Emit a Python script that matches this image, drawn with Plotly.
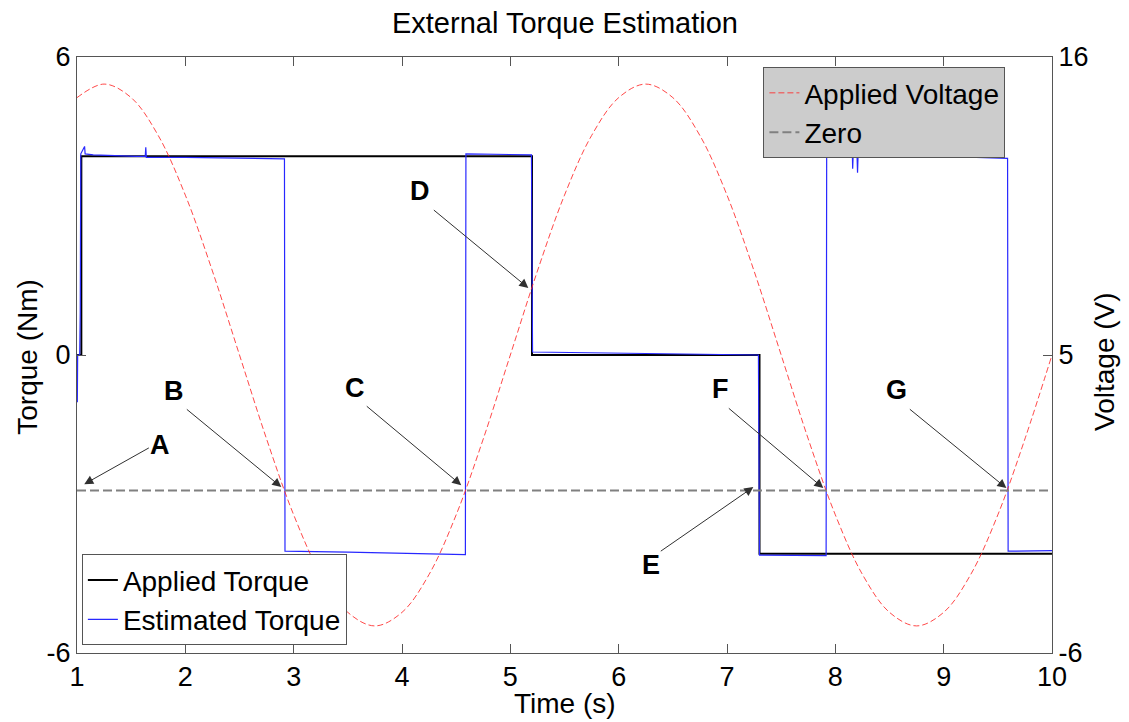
import plotly.graph_objects as go

# ---------------- data ----------------
applied_t = [1.0, 1.04, 1.04, 5.2, 5.2, 7.3, 7.3, 10.0]
applied_T = [0.0, 0.0, 4.0, 4.0, 0.0, 0.0, -4.0, -4.0]

est_t = [1.000, 1.003, 1.006, 1.025, 1.030, 1.035, 1.070, 1.075, 1.15, 1.55, 1.630,
         1.635, 1.640, 2.0, 2.5, 2.915, 2.920, 3.0, 3.2, 3.5, 4.0, 4.585, 4.590,
         5.0, 5.195, 5.205, 5.5, 6.0, 6.6, 7.29, 7.30, 7.6, 7.915, 7.920, 8.15,
         8.155, 8.160, 8.165, 8.20, 8.205, 8.210, 8.6, 9.04, 9.045, 9.05, 9.3,
         9.590, 9.595, 10.0]
est_T = [0.0, -0.95, 0.0, 0.0, 0.85, 4.05, 4.20, 4.05, 4.03, 4.0, 4.0,
         4.18, 3.98, 3.98, 3.96, 3.95, -3.95, -3.95, -3.96, -3.97, -3.99, -4.02, 4.05,
         4.04, 4.03, 0.06, 0.05, 0.03, 0.02, 0.0, -4.03, -4.04, -4.04, 4.05, 4.05,
         4.27, 3.75, 4.05, 4.04, 3.67, 4.04, 4.03, 4.02, 4.12, 4.01, 3.98,
         3.96, -3.95, -3.94]

volt_t = [1.0, 1.25, 1.5, 1.75, 2.0, 2.25, 2.5, 2.75, 3.0, 3.25, 3.5, 3.75, 4.0,
          4.25, 4.5, 4.75, 5.0, 5.25, 5.5, 5.75, 6.0, 6.25, 6.5, 6.75, 7.0, 7.25,
          7.5, 7.75, 8.0, 8.25, 8.5, 8.75, 9.0, 9.25, 9.5, 9.75, 10.0]
volt_V = [14.5, 15.0, 14.5, 13.1, 10.9, 8.1, 5.0, 1.9, -0.9, -3.1, -4.5, -5.0, -4.5,
          -3.1, -0.9, 1.9, 5.0, 8.1, 10.9, 13.1, 14.5, 15.0, 14.5, 13.1, 10.9, 8.1,
          5.0, 1.9, -0.9, -3.1, -4.5, -5.0, -4.5, -3.1, -0.9, 1.9, 5.0]

zero_t = [1.0, 10.0]
zero_V = [0.0, 0.0]

x_ticks = [1, 2, 3, 4, 5, 6, 7, 8, 9, 10]
torque_ticks = [-6, 0, 6]
torque_labels = ["-6", "0", "6"]
volt_ticks = [-6, 5, 16]
volt_labels = ["-6", "5", "16"]

# annotation labels: label position, arrow tail, arrow head (time, torque)
ann_labels = ["A", "B", "C", "D", "E", "F", "G"]
ann_label_t = [1.769, 1.898, 3.569, 4.169, 6.301, 6.938, 8.563]
ann_label_T = [-1.81, -0.715, -0.665, 3.306, -4.232, -0.685, -0.705]
ann_tail_t = [1.677, 2.000, 3.661, 4.280, 6.375, 7.003, 8.674]
ann_tail_T = [-1.854, -1.07, -1.007, 2.943, -3.97, -1.048, -1.068]
ann_head_t = [1.067, 2.886, 4.547, 5.166, 7.243, 7.889, 9.579]
ann_head_T = [-2.60, -2.66, -2.62, 1.35, -2.66, -2.68, -2.68]

FONT = "Liberation Sans, Arial, sans-serif"

fig = go.Figure()
fig.add_trace(go.Scatter(x=applied_t, y=applied_T, mode="lines", name="Applied Torque",
                         line=dict(color="black", width=2), legend="legend"))
fig.add_trace(go.Scatter(x=est_t, y=est_T, mode="lines", name="Estimated Torque",
                         line=dict(color="rgb(40,40,255)", width=1.2), legend="legend"))
fig.add_trace(go.Scatter(x=volt_t, y=volt_V, mode="lines", name="Applied Voltage",
                         line=dict(color="rgba(255,40,40,0.85)", width=1, dash="6px,3px",
                                   shape="spline", smoothing=1.0),
                         yaxis="y2", legend="legend2"))
fig.add_trace(go.Scatter(x=zero_t, y=zero_V, mode="lines", name="Zero",
                         line=dict(color="rgb(128,128,128)", width=2, dash="9px,4px"),
                         yaxis="y2", legend="legend2"))

annotations = []
for lab, lt, lT, tt, tT, ht, hT in zip(ann_labels, ann_label_t, ann_label_T,
                                        ann_tail_t, ann_tail_T, ann_head_t, ann_head_T):
    annotations.append(dict(x=ht, y=hT, ax=tt, ay=tT, xref="x", yref="y",
                            axref="x", ayref="y", text="", showarrow=True,
                            arrowhead=2, arrowsize=1.8, arrowwidth=1,
                            arrowcolor="#303030"))
    annotations.append(dict(x=lt, y=lT, xref="x", yref="y", text="<b>%s</b>" % lab,
                            showarrow=False, font=dict(family=FONT, size=27, color="black"),
                            xanchor="center", yanchor="middle"))

# axis titles placed as text annotations (paper coords of the plot area)
title_font = dict(family=FONT, size=28, color="black")
annotations.append(dict(text="Time (s)", x=0.5, y=-0.0845, xref="paper", yref="paper",
                        showarrow=False, xanchor="center", yanchor="middle", font=title_font))
annotations.append(dict(text="Torque (Nm)", x=-0.0503, y=0.497, xref="paper", yref="paper",
                        showarrow=False, xanchor="center", yanchor="middle", textangle=-90,
                        font=title_font))
annotations.append(dict(text="Voltage (V)", x=1.0543, y=0.49, xref="paper", yref="paper",
                        showarrow=False, xanchor="center", yanchor="middle", textangle=-90,
                        font=title_font))

axis_common = dict(showgrid=False, zeroline=False, showline=True, linecolor="#555555",
                   linewidth=1, ticks="inside", ticklen=9, tickcolor="#555555",
                   automargin=False,
                   tickfont=dict(family=FONT, size=27, color="black"))

W, H = 1129, 722
fig.update_layout(
    width=W, height=H,
    paper_bgcolor="white", plot_bgcolor="white",
    margin=dict(l=77, r=77, t=57, b=69, autoexpand=False),
    title=dict(text="External Torque Estimation", x=565 / W, xanchor="center",
               y=1 - 23 / H, yanchor="middle", yref="container",
               font=dict(family=FONT, size=29, color="black")),
    xaxis=dict(range=[1, 10], tickvals=x_ticks, mirror="ticks", **axis_common),
    yaxis=dict(range=[-6, 6], tickvals=torque_ticks, ticktext=torque_labels, **axis_common),
    yaxis2=dict(range=[-6, 16], tickvals=volt_ticks, ticktext=volt_labels, overlaying="y",
                side="right", **axis_common),
    legend=dict(x=0.005, y=0.013, xanchor="left", yanchor="bottom",
                bgcolor="white", bordercolor="#555555", borderwidth=1,
                font=dict(family=FONT, size=28, color="black"),
                tracegroupgap=0, itemwidth=30),
    legend2=dict(x=0.704, y=0.983, xanchor="left", yanchor="top",
                 bgcolor="#cccccc", bordercolor="#555555", borderwidth=1,
                 font=dict(family=FONT, size=28, color="black"),
                 tracegroupgap=0, itemwidth=30),
    annotations=annotations,
    showlegend=True,
)

fig.write_html("out.html", config={"displayModeBar": False})

# remove the default 8px body margin so the figure fills the window exactly
with open("out.html", "r", encoding="utf-8") as f:
    html = f.read()
html = html.replace("<head>", "<head><style>html,body{margin:0;padding:0;overflow:hidden;}</style>", 1)
with open("out.html", "w", encoding="utf-8") as f:
    f.write(html)
